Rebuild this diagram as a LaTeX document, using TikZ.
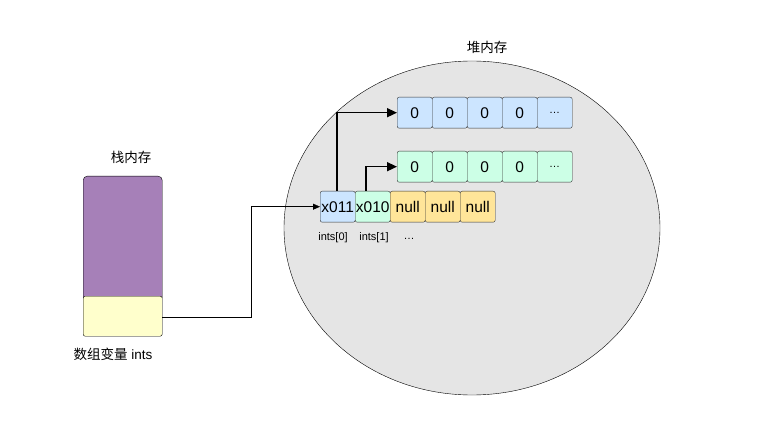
\documentclass[tikz,border=0pt]{standalone}
\usepackage{fontspec}
\setmainfont{Liberation Sans}
\newfontfamily\cjk{Noto Sans CJK SC}
\usetikzlibrary{arrows.meta,shapes.geometric}
\definecolor{cblue}{HTML}{CCE5FF}
\definecolor{cgreen}{HTML}{CCFFE6}
\definecolor{corange}{HTML}{FFE599}
\definecolor{cpurple}{HTML}{A680B8}
\definecolor{cyellow}{HTML}{FFFFCC}
\newcommand\mydots{\raisebox{-2pt}{\fontsize{11}{12}\selectfont\ldots}}
\begin{document}
\begin{tikzpicture}[x=1pt,y=-1pt,
  cell/.style={draw=black!80,rounded corners=2pt,minimum width=35pt,minimum height=31pt,inner sep=0pt,font=\fontsize{15.5}{17}\selectfont,anchor=north west},
  lbl/.style={font=\fontsize{11}{12}\selectfont},
  conn/.style={draw,-{Triangle[length=10pt,width=9pt]}}]
\useasboundingbox (0,0) rectangle (780,425);
\fill[white] (0,0) rectangle (780,425);
\node[draw=black,fill=black!10,ellipse,minimum width=376pt,minimum height=334pt] (heap) at (472,228) {};
\node[font=\cjk\fontsize{13.5}{15}\selectfont] (heapl) at (487,47) {堆内存};
\foreach \i/\t in {0/0,1/0,2/0,3/0,4/\mydots}{
  \node[cell,fill=cblue] (a\i) at (397+35*\i,97) {\t};
  \node[cell,fill=cgreen] (b\i) at (397+35*\i,151) {\t};
}
\node[cell,fill=cblue] (p0) at (320,191) {x011};
\node[cell,fill=cgreen] (p1) at (355,191) {x010};
\foreach \i in {2,3,4}{\node[cell,fill=corange] (p\i) at (320+35*\i,191) {null};}
\node[lbl] (l0) at (333,238) {ints[0]};
\node[lbl] (l1) at (374,238) {ints[1]};
\node[lbl] (l2) at (409,239) {\ldots};
\draw[conn,line width=1.5pt] (p0.north -| 337,0) |- (a0.west);
\draw[conn,line width=1.5pt] (p1.north -| 366,0) |- (b0.west);
\node[draw=black,fill=cpurple,rounded corners=4pt,minimum width=79pt,minimum height=125pt,anchor=north west,inner sep=0pt] (stack) at (83,176) {};
\node[draw=black,fill=cyellow,minimum width=79pt,minimum height=40pt,anchor=north west,inner sep=0pt,rounded corners=2pt] (var) at (83,296) {};
\node[font=\cjk\fontsize{13.5}{15}\selectfont] (stackl) at (131,157) {栈内存};
\node[font=\fontsize{13.5}{15}\selectfont] (varl) at (113,354) {{\cjk 数组变量} ints};
\coordinate (bend) at (251,317);
\draw[-{Triangle[length=7pt,width=6pt]}] (var.east |- bend) -- (bend) |- (p0.west);
\end{tikzpicture}
\end{document}
